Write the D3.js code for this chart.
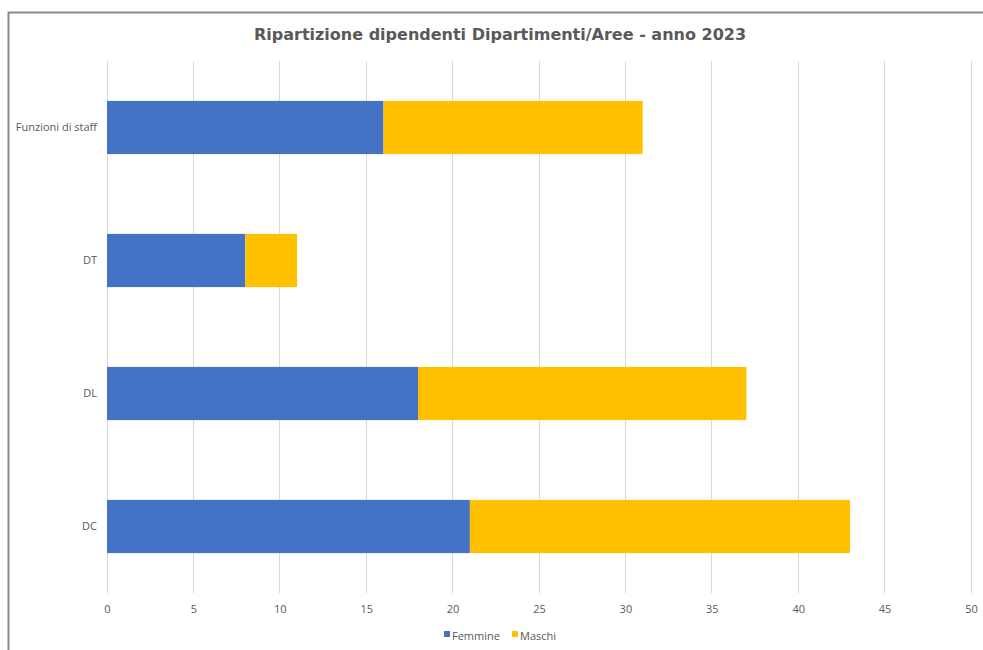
<!DOCTYPE html>
<html>
<head>
<meta charset="utf-8">
<script src="https://cdn.jsdelivr.net/npm/d3@7"></script>
<style>
  html, body { margin: 0; padding: 0; background: #fff; }
  svg { display: block; }
</style>
</head>
<body>
<svg id="chart" width="983" height="650"></svg>
<script>
// Staff by department/area, 2023
const categories = ["Funzioni di staff", "DT", "DL", "DC"];
const femmine = [16, 8, 18, 21];
const maschi = [15, 3, 19, 22];
const seriesNames = ["Femmine", "Maschi"];
const seriesColors = ["#4472C4", "#FFC000"];
const xTicks = [0, 5, 10, 15, 20, 25, 30, 35, 40, 45, 50];

const svg = d3.select("#chart");
const W = 983, H = 650;
const labelFont = "'Open Sans', 'Liberation Sans', sans-serif";

// outer chart frame
svg.append("rect")
  .attr("x", 8.5).attr("y", 12.5)
  .attr("width", W + 10).attr("height", H + 10)
  .attr("fill", "#fff").attr("stroke", "#8a8a8a").attr("stroke-width", 2);

const plot = { left: 107, right: 971, top: 61, bottom: 593 };

const x = d3.scaleLinear().domain([0, 50]).range([plot.left, plot.right]);
const y = d3.scaleBand().domain(categories).range([plot.top, plot.bottom])
  .paddingInner(0.6).paddingOuter(0.3);

// title
svg.append("text")
  .attr("x", 500).attr("y", 40)
  .attr("text-anchor", "middle")
  .attr("font-family", "'DejaVu Sans', Verdana, sans-serif")
  .attr("font-weight", "bold").attr("font-size", 16)
  .attr("fill", "#595959")
  .text("Ripartizione dipendenti Dipartimenti/Aree - anno 2023");

// vertical gridlines
svg.append("g").selectAll("line")
  .data(xTicks)
  .join("line")
  .attr("x1", d => x(d)).attr("x2", d => x(d))
  .attr("y1", plot.top).attr("y2", plot.bottom)
  .attr("stroke", "#d9d9d9").attr("stroke-width", 1)
  .attr("shape-rendering", "crispEdges");

// x axis tick labels
const xAxis = d3.axisBottom(x).tickValues(xTicks).tickSize(0).tickPadding(12);
const gx = svg.append("g").attr("transform", `translate(0,${plot.bottom})`).call(xAxis);
gx.select(".domain").remove();
gx.selectAll("text")
  .attr("font-family", labelFont).attr("font-size", 11).attr("fill", "#595959");

// y axis category labels
const yAxis = d3.axisLeft(y).tickSize(0).tickPadding(10);
const gy = svg.append("g").attr("transform", `translate(${plot.left},0)`).call(yAxis);
gy.select(".domain").remove();
gy.selectAll("text")
  .attr("font-family", labelFont).attr("font-size", 11).attr("fill", "#595959");

// stacked bars
const rows = categories.map((c, i) => ({ cat: c, Femmine: femmine[i], Maschi: maschi[i] }));
const stacked = d3.stack().keys(seriesNames)(rows);

svg.append("g").selectAll("g")
  .data(stacked)
  .join("g")
  .attr("fill", (d, i) => seriesColors[i])
  .selectAll("rect")
  .data(d => d)
  .join("rect")
  .attr("x", d => x(d[0]))
  .attr("width", d => x(d[1]) - x(d[0]))
  .attr("y", d => y(d.data.cat))
  .attr("height", y.bandwidth());

// legend
const legend = svg.append("g").attr("transform", "translate(444,636)");
const legendX = [0, 68];
seriesNames.forEach((name, i) => {
  const g = legend.append("g").attr("transform", `translate(${legendX[i]},0)`);
  g.append("rect").attr("x", 0).attr("y", -5).attr("width", 6).attr("height", 6)
    .attr("fill", seriesColors[i]);
  g.append("text").attr("x", 8).attr("y", 0).attr("dy", "0.35em")
    .attr("font-family", labelFont).attr("font-size", 11).attr("fill", "#595959")
    .text(name);
});
</script>
</body>
</html>
